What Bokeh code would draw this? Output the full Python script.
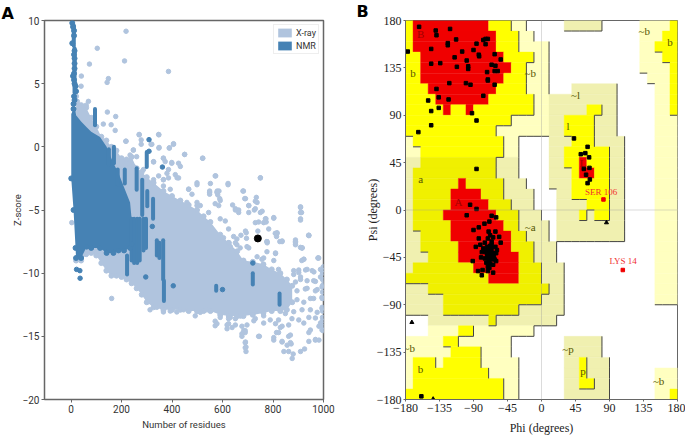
from bokeh.plotting import figure
from bokeh.layouts import row
from bokeh.embed import file_html
from bokeh.resources import INLINE
from bokeh.models import FixedTicker, Legend, LegendItem, Span, Title
from bokeh.core.properties import value

# ---------- Panel A data ----------
XRAY_X = [20,40,60,80,100,120,140,160,180,200,220,240,260,280,300,327,366,400,433,466,499,525,552,591,625,658,683,720,762,795,829,855,876]
XRAY_TOP = [4,3.3,3.1,2.3,1.6,0.8,0.5,0,-0.3,-0.9,-1,-0.8,-1.7,-2,-2.4,-2.85,-3.5,-3.9,-4.25,-4.6,-5,-5.5,-5.95,-6.95,-7.6,-8.27,-9,-9.1,-9.3,-9.7,-10,-10.5,-11]
XRAY_BOT = [-9,-9,-8.5,-8.4,-8.6,-9.2,-9.8,-10.2,-10.2,-10.3,-10.5,-10.8,-11.2,-11.7,-12.3,-12.7,-12.9,-12.9,-12.9,-13,-13,-13,-13,-13.3,-13.4,-13.4,-13.4,-13.3,-13.15,-13,-13,-12.9,-12.3]
NMR_X = [1,10,18,20,40,62,80,115,141,168,188,210,234,240]
NMR_TOP = [2.6,3,2.9,2.5,2.0,1.55,1.2,0.78,0,-1.3,-2.07,-3.2,-4.4,-5.7]
NMR_BOT = [-2.5,-5,-8,-8.8,-8.8,-7.9,-8,-8,-8.4,-8.4,-8.2,-8.2,-8,-7.7]
NMR_SPIKE_X = [5,8,12,12,5,14,12,14,14,14,12,8,12,14,18,20,12,14,10,10]
NMR_SPIKE_Z = [9.8,9.5,9.2,8.8,8.2,7.6,7.3,7,6.6,6.2,5.8,5.6,5.3,5,4.8,4.4,4,3.7,3.4,3]
NMR_COL_X = [95,170,185,213,260,300,282,302,325,240,250,262,272,287,297,222,365,368,340,350,720,826,575,150,14,11]
NMR_COL_HI = [3,0,-1.8,-1.8,-1.7,-0.4,-2.6,-3.5,-4.1,-5.7,-5.7,-5.7,-5.7,-5.7,-5.7,-8.6,-7.4,-10.6,-7.4,-7.6,-10,-11.6,-11,-0.2,7.8,9.6]
NMR_COL_LO = [1.7,-1.3,-3,-2.9,-3.4,-1.6,-5.4,-4.7,-5.7,-9,-9.2,-9.2,-9,-8.2,-8,-10.1,-10.5,-12.2,-8.6,-8.8,-10.9,-12.5,-11.4,-1.4,4.3,8]
NMR_PT_X = [309,309,362,296,405,600,720,322,22,35,36]
NMR_PT_Z = [0.57,-0.35,-1.6,-10.3,-11,-11.3,-9.2,-6.3,-9.7,-9.8,-10.4]
XRAY_PT_X = [218,104,212,73,386,41,148,143,40,144,177,69,159,128,175,270,348,218,278,317,406,389,348,450,521,247,573,750,622,552,499,683,549,579,581,734,737,688,704,589,651,664,640,909,913,909,803,757,772,726,585,499,466,433,420,399,366,327,366,380,3,161,694,673,816,827,889,915,942,914,979,902,929,962,995,999,995,882,909,935,968,975,999,948,995,975,942,995,982,999,968,982,942,909,925,876,880,856,862,843,836,803,814,869,872,746,691,693,693,677,684,638,624,578,730,763,776,810,657,631,25,50,60,
             549,549,578,586,571,591,651,664,691,704,704,730,730,750,770,773,743,803,783,816,814,836,889,889,909,915,942,909,909,909,750,681,622,571,522,499,466,479,459,499,512,545,591,611,644,691,695,740,624,657,704,777,810,763,922,978,
             270,347,217,278,320,349,390,406,450,327,366,373,399,426,386,386,413,426,366,366,393,347,327,314,247,234,260,287,247,221,
             882,902,909,935,955,988,889,935,961,988,994,895,928,968,994,895,922,961,915,994,882,948,902,968,988,875,862,922,948,994,849,822,836,789,763,730,743,690,677,697,651,624,618,651,690,690,803,822,862,869,836,942,968,
             889,915,941,981,922,822,803,776,756,737,697,670,651,624,604,776,809,836,
             996,996,996,996,996,996,996,996,
             313,340,366,393,419,446,492,512,538,571,571,591,618,631,671,677,690,724,763,810,829]
XRAY_PT_Z = [9.15,7.8,6.8,6.55,5.97,5.6,5.4,5.1,4.8,2.75,2.4,3.6,1.75,1.8,1.3,0.95,0.95,0.45,0.55,0.2,0.2,-0.1,-0.1,-0.6,-0.9,-0.25,-2.3,-2.45,-2.9,-2.9,-2.85,-3.5,-3.6,-3.5,-3.8,-4.0,-4.4,-4.1,-4.65,-4.1,-4.9,-5,-4.6,-4.75,-5.2,-5.7,-5.6,-5.1,-5.7,-5,-4.65,-4.65,-3.35,-1.55,-2.45,-1.3,-0.9,-1.2,-2.6,-2.1,-6,-12,-6.8,-7,-6.8,-7.5,-7.5,-8,-7,-9,-8.8,-9.75,-9.75,-9.9,-9.75,-10.9,-12,-10.1,-10.5,-11.2,-10.65,-11.3,-9.5,-12,-12.7,-13.1,-13.5,-13.8,-14.2,-14.55,-15.3,-15.3,-14.7,-16.2,-16,-16.75,-16.4,-15.7,-16.2,-16.2,-15.45,-15.3,-14.7,-14.9,-15.6,-15,-15.45,-15.85,-16.2,-15,-14.55,-14.3,-14,-14,-6,-6,-7.5,-8.45,-7.3,-7.9,3.6,3.2,3.3,
             -3.75,-3.5,-3.6,-3.5,-4.5,-4.25,-5.0,-5.2,-4.1,-4.65,-5.2,-4.3,-4.9,-5.2,-5.7,-5.95,-5.95,-5.65,-6.5,-6.85,-7.1,-7.45,-7.37,-7.6,-7.96,-8,-7.03,-4.8,-5.2,-5.8,-2.46,-3.5,-3,-2.3,-0.9,-3,-3.36,-3.75,-4.4,-4.4,-4.65,-5.2,-5.7,-5.87,-7.1,-6.67,-7.24,-6.67,-6.5,-7.75,-8,-7.6,-8.4,-8.8,-8.9,-8.8,
             0.98,0.98,0.44,0.2,0.2,-0.05,-0.08,0.25,-0.6,-1.17,-0.9,-1.17,-1.24,-1.3,-1.8,-2.46,-2.2,-2.46,-2.6,-3.1,-3.36,-2.3,-2.6,-3,-0.26,-0.65,-0.78,-1.8,-1.55,-1.3,
             -9.8,-9.95,-10.3,-9.7,-9.8,-9.7,-10.7,-10.6,-10.6,-10.3,-11.1,-11.4,-11.25,-11.4,-11.9,-12.1,-12.3,-12,-12.9,-12.8,-13.05,-12.9,-13.7,-13.55,-13.95,-13.6,-14.1,-13.95,-14.5,-14.5,-13.2,-13.7,-14.2,-13.7,-13.95,-13.6,-15,-14.7,-14.2,-14.1,-13.6,-13.6,-14.1,-14.1,-15.5,-15.9,-15.1,-14.7,-15,-15.5,-15.4,-15.4,-15.25,
             -7.75,-8,-7,-8.8,-8.9,-9.7,-9,-8.3,-8.9,-8.7,-7.9,-8,-7.6,-7.6,-7.2,-7.5,-6.85,-7.5,
             -10,-10.5,-11,-11.5,-12,-13,-13.5,-14.2,
             -12.9,-12.7,-13.07,-13,-13.07,-12.9,-13.38,-13.1,-12.9,-14.16,-13.8,-13.5,-14.4,-13.5,-13.4,-14.8,-14.55,-13.77,-13.38,-14,-14.3]
MODEL_X = [740]
MODEL_Z = [-7.25]
A_XTICKS = [0,200,400,600,800,1000]
A_YTICKS = [-20,-15,-10,-5,0,5,10]

# ---------- Panel B data ----------
TICKS_B = [-180,-135,-90,-45,0,45,90,135,180]
ZONE_ROWS = [
 "Y1 R10 Y3 L2 W5 M5 W5 L4 Y1",
 "Y1 R11 Y3 L2 W14 L3 Y2",
 "Y1 R11 Y3 L4 W12 L2 Y3",
 "Y2 R11 Y4 L2 W12 L3 Y2",
 "Y2 R12 Y2 L3 W12 L4 Y1",
 "Y2 R11 Y3 L3 W13 L3 Y1",
 "Y3 R9 Y4 L3 W3 M6 W5 L2 Y1",
 "Y4 R7 Y6 L2 M9 W5 L2 Y1",
 "Y5 R1 Y2 R1 Y8 L2 M5 Y2 M2 W5 L2 Y1",
 "Y14 L5 M2 Y4 M3 W5 L3",
 "Y12 L7 M2 Y4 M3 W5 L3",
 "L1 Y12 L2 W4 M3 Y3 M4 W4 L3",
 "L2 Y11 L2 W4 M2 Y6 M2 W4 L3",
 "M2 D10 M3 W4 M2 Y2 R1 Y3 M2 W4 L3",
 "M1 D11 M3 W4 M3 Y1 R2 Y2 M2 W4 L3",
 "M1 D6 R1 D5 M3 W3 M3 Y5 M2 W4 L3",
 "M1 D5 R4 D3 M4 W3 M2 Y5 M2 W4 L3",
 "M1 D5 R5 D3 M3 W3 M4 Y3 M2 W4 L3",
 "M1 D4 R7 D3 M3 W2 M3 Y1 M1 Y2 M2 W4 L3",
 "M1 D5 R7 D2 M4 W1 M9 W4 L3",
 "M2 D4 R8 D2 M3 W1 M9 W4 L3",
 "M2 D5 R7 D3 M3 W13 L3",
 "M3 D4 R8 D2 M3 W13 L3",
 "M1 D8 R6 D3 M3 W12 L3",
 "D11 R4 D3 M3 W12 L3",
 "M3 D16 M2 W12 L3",
 "M5 D13 M3 W12 L3",
 "M5 D10 M6 W15",
 "W3 M8 D1 M8 W16",
 "W3 L4 Y2 L8 W19",
 "L5 Y2 L7 W7 M5 W10",
 "L6 Y4 L4 W7 M5 W10",
 "L1 Y3 L1 Y5 L5 W6 M2 Y1 M3 W9",
 "L1 Y10 L4 W6 M2 Y1 M3 W6 L3",
 "L1 Y12 L2 W6 M2 Y2 M2 W6 L3",
 "Y13 L2 W6 M6 W6 L2 Y1",
]
ZONE_COLORS = {"R":"#F00000","Y":"#FFFF00","D":"#F0F000","L":"#FFFFC0","M":"#F0F0B0"}
ZONE_RANK = {"W":0,"L":1,"M":1,"Y":2,"D":2,"R":2}
PHI = [-162,-140,-139,-121,-177,-113,-124,-124,-146,-86,-77,-74,-71,-74,-105,-90,-62,-83,-82.5,-115,-99,-54,-146,-134,-112,-97,-97,-66,-61,-62,-58,-72,-71,-71,-122,-100,-94,-62,-139,-150,-136,-123,-77,-146,-136,-92,-86,-146,-163,
       43,61,52,58,63,56,63.5,59,64,61,-86,-94.5,-86,-99,-66,-60,
       -90,-83,-75.5,-69,-70,-68,-61,-56,-64,-71,-54,-66,-75,-83,-87,-81,-77,-72,-66,-61,-59,-68,-79,-72,-66,-60,-91,-80,-70,-68,-71,-64,-78,-84,-79,-64,-70,-75,-67.5,-64,-70,-68,-72,-66,-70,-68,-66,-70,-67,-72,-63,-74,-68,-66,-60,-62,-73,-71,-69,-159]
PSI = [174,170.5,166,172,150.5,162,158.5,156.5,153,158,161.5,162.5,162.5,157.5,150.5,152,148,147.5,146,145,142,143,139,139.5,136,136.5,134,138,137,132,132,131,124,123,120.5,120.5,119,119,115,104,107,105,108.5,94,97,92,85,80.5,74,
       68,60,53,54,50,39,40,33.5,29,25.5,39,5,1,-5,-5.5,-7,
       -19,-16.5,-13,-11,-20.5,-24,-20.5,-25.5,-26,-27,-31,-30,-31,-27,-35,-33,-36.5,-35,-36,-35,-38,-40,-40,-41,-43,-48.5,-48.5,-45,-47.5,-51,-54,-52,-57,-58,-62,-59.5,-44.5,-46,-38,-41,-36,-38,-38,-40,-41,-43,-46,-50,-47,-44,-44,-40,-34,-33,-41,-47,-50,-58,-55,-177]
TRI_PHI = [-171.6,-143.4,86]
TRI_PSI = [-106.7,-179.5,-12]
OUT_PHI = [82,107.6]
OUT_PSI = [10,-57]
OUT_NAMES = ["SER 106","LYS 14"]
OUT_LABEL_PHI = [79,108]
OUT_LABEL_PSI = [17,-48]
ZONE_LABELS = ["B","b","a","A","L","l","~b","~b","b","~l","~a","~b","b","p","~p","~b"]
ZONE_LABEL_PHI = [-160,-170,-160,-110,55,35,-15,136,170,45,-15,-175,-160,55,35,155]
ZONE_LABEL_PSI = [167,130,29,8,45,80,130,170,160,109,-16,-131,-151,-153,-132,-162]
ZONE_LABEL_DARK = [1,0,0,1,1,0,0,0,0,0,0,0,0,0,0,0]

LIGHT = "#B0C4DE"
STEEL = "#4682B4"
SANS = "Roboto"
SERIF = "Liberation Serif"

# ---------- Panel A ----------
a = figure(width=353, height=437, output_backend="svg", toolbar_location=None,
           x_range=(-105,1000), y_range=(-20,10),
           min_border_left=44, min_border_right=30, min_border_top=15, min_border_bottom=37)
a.grid.visible = False
a.outline_line_color = "#666666"
a.outline_line_width = 1.5
xr = a.varea(XRAY_X, XRAY_BOT, XRAY_TOP, fill_color=LIGHT)
a.scatter(XRAY_X, XRAY_TOP, size=5, color=LIGHT)
a.scatter(XRAY_X, XRAY_BOT, size=5, color=LIGHT)
a.scatter(XRAY_PT_X, XRAY_PT_Z, size=4.5, color=LIGHT)
nm = a.varea(NMR_X, NMR_BOT, NMR_TOP, fill_color=STEEL)
a.segment(NMR_COL_X, NMR_COL_LO, NMR_COL_X, NMR_COL_HI, line_color=STEEL, line_width=4, line_cap="round")
a.scatter(NMR_SPIKE_X, NMR_SPIKE_Z, size=5, color=STEEL)
a.scatter(NMR_X, NMR_BOT, size=5, color=STEEL)
a.scatter(NMR_PT_X, NMR_PT_Z, size=4.5, color=STEEL)
a.scatter(MODEL_X, MODEL_Z, size=7, color="black")
leg = Legend(items=[LegendItem(label="X-ray", renderers=[xr]), LegendItem(label="NMR", renderers=[nm])],
             location="top_right", margin=4, padding=2, spacing=2, glyph_width=17, glyph_height=11,
             label_text_font=SANS, label_text_font_size="9px", label_text_color="#333333",
             label_height=11, label_standoff=3, border_line_color="#DDDDDD", background_fill_alpha=0.9)
a.add_layout(leg)
a.xaxis.ticker = FixedTicker(ticks=A_XTICKS)
a.yaxis.ticker = FixedTicker(ticks=A_YTICKS)
a.yaxis.major_label_overrides = {t: str(t).replace("-", "\u2212") for t in A_YTICKS}
a.xaxis.axis_label = "Number of residues"
a.yaxis.axis_label = "Z-score"
for ax in (a.xaxis, a.yaxis):
    ax.major_label_text_font = SANS
    ax.major_label_text_font_size = "10px"
    ax.major_label_text_color = "#333333"
    ax.axis_label_text_font = SANS
    ax.axis_label_text_font_size = "9.5px"
    ax.axis_label_text_font_style = "normal"
    ax.axis_label_text_color = "#333333"
    ax.axis_line_color = "#666666"
    ax.major_tick_line_color = "#666666"
    ax.major_tick_out = 3
    ax.major_tick_in = 0
    ax.minor_tick_line_color = None
    ax.major_label_standoff = 2
a.xaxis.axis_label_standoff = 3
a.yaxis.axis_label_standoff = -3
a.add_layout(Title(text="A", align="left", offset=-43, standoff=-5,
                   text_font="DejaVu Sans", text_font_style="bold", text_font_size="16px", text_color="black"), "above")

# ---------- Panel B ----------
b = figure(width=332, height=437, output_backend="svg", toolbar_location=None,
           x_range=(-180,180), y_range=(-180,180),
           min_border_left=52, min_border_right=8, min_border_top=19, min_border_bottom=38)
b.grid.visible = False
b.outline_line_color = "#666666"

grid = []
for spec in ZONE_ROWS:
    cells = ""
    for tok in spec.split():
        cells += tok[0] * int(tok[1:])
    assert len(cells) == 36, spec
    grid.append(cells)

left, right, bottom, top, colors = [], [], [], [], []
for i, spec in enumerate(ZONE_ROWS):
    j = 0
    for tok in spec.split():
        n = int(tok[1:])
        if tok[0] != "W":
            left.append(-180 + j * 10); right.append(-180 + (j + n) * 10)
            top.append(180 - i * 10); bottom.append(170 - i * 10)
            colors.append(ZONE_COLORS[tok[0]])
        j += n
b.quad(left=left, right=right, bottom=bottom, top=top, fill_color=colors, line_color=colors, line_width=0.4)

x0, y0, x1, y1 = [], [], [], []
for i in range(36):
    for j in range(36):
        r = ZONE_RANK[grid[i][j]]
        px = -180 + j * 10
        py = 180 - i * 10
        if r == 0:
            continue
        if j < 35 and ZONE_RANK[grid[i][j + 1]] < r:
            x0.append(px + 10); y0.append(py); x1.append(px + 10); y1.append(py - 10)
        if i < 35 and ZONE_RANK[grid[i + 1][j]] < r:
            x0.append(px); y0.append(py - 10); x1.append(px + 10); y1.append(py - 10)
b.segment(x0, y0, x1, y1, line_color="#444444", line_width=1)

b.add_layout(Span(location=0, dimension="width", line_color="#999999", line_width=0.7, line_dash="1 1"))
b.add_layout(Span(location=0, dimension="height", line_color="#999999", line_width=0.7, line_dash="1 1"))

b.text(ZONE_LABEL_PHI, ZONE_LABEL_PSI, text=ZONE_LABELS, text_font=value(SERIF), text_font_size="11px",
       text_align="center", text_baseline="middle",
       text_color=["#A00000" if d else "#555500" for d in ZONE_LABEL_DARK])
b.scatter(PHI, PSI, marker="square", size=3.5, color="black")
b.scatter(TRI_PHI, TRI_PSI, marker="triangle", size=4, color="black")
b.scatter(OUT_PHI, OUT_PSI, marker="square", size=3.5, color="#F00000")
b.text(OUT_LABEL_PHI, OUT_LABEL_PSI, text=OUT_NAMES, text_font=value(SERIF), text_font_size="9px",
       text_align="center", text_baseline="middle", text_color="#F03030")

b.xaxis.ticker = FixedTicker(ticks=TICKS_B)
b.yaxis.ticker = FixedTicker(ticks=TICKS_B)
b.xaxis.axis_label = "Phi (degrees)"
b.yaxis.axis_label = "Psi (degrees)"
for ax in (b.xaxis, b.yaxis):
    ax.major_label_text_font = SERIF
    ax.major_label_text_font_size = "12px"
    ax.major_label_text_color = "#222222"
    ax.axis_label_text_font = SERIF
    ax.axis_label_text_font_size = "12px"
    ax.axis_label_text_font_style = "normal"
    ax.axis_label_text_color = "#222222"
    ax.axis_line_color = "#666666"
    ax.major_tick_line_color = "#666666"
    ax.major_tick_out = 2
    ax.major_tick_in = 0
    ax.minor_tick_line_color = None
    ax.major_label_standoff = 2
b.xaxis.axis_label_standoff = 6
b.yaxis.axis_label_standoff = -6
b.add_layout(Title(text="B", align="left", offset=-49, standoff=-1,
                   text_font="DejaVu Sans", text_font_style="bold", text_font_size="16px", text_color="black"), "above")

page = row(a, b)
open("out.html", "w").write(file_html(page, INLINE))
